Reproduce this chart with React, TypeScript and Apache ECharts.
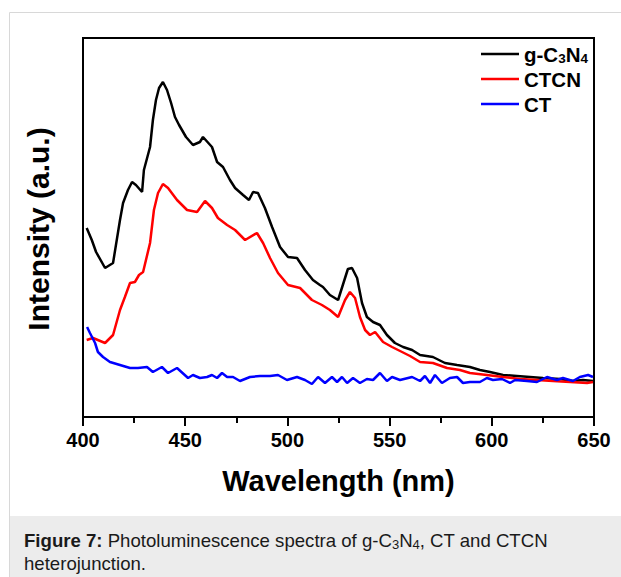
import React, { useEffect, useRef } from "react";
import * as echarts from "echarts";

const xTicks = [400, 450, 500, 550, 600, 650];

const gcnWavelength = [401.8,404.3,406.4,410.8,414.7,418.1,419.6,422.0,424.0,425.9,428.9,429.8,432.8,434.2,435.7,437.2,439.1,441.1,443.1,445.0,447.0,450.4,453.8,457.2,458.7,463.1,465.6,468.5,471.9,474.4,478.3,481.2,483.2,485.6,489.0,492.5,496.4,500.3,504.7,508.6,512.5,515.9,517.4,520.8,524.8,528.2,529.6,531.6,534.1,536.5,538.9,541.9,545.3,548.7,552.6,556.6,561.0,564.9,571.2,577.1,583.0,589.3,594.2,599.1,605.5,612.3,618.7,625.0,633.4,639.7,644.6,649.5];
const gcnIntensity = [189,177,165,149,154,197,214,227,235,232,225,247,270,297,317,329,335,327,314,300,292,280,272,275,280,270,255,250,237,229,222,217,225,224,209,190,170,160,159,147,137,132,130,122,117,139,148,149,139,114,100,95,92,82,74,70,67,62,60,54,52,50,47,45,42,41,40,39,38,36,37,36];

const ctcnWavelength = [401.8,404.9,410.8,414.7,418.1,420.5,423.0,425.4,427.4,429.4,432.8,434.7,436.7,439.1,441.6,446.0,450.9,455.8,459.7,463.1,466.0,470.5,474.4,479.3,485.1,488.1,491.5,495.4,500.3,506.2,512.0,516.9,520.8,524.8,528.2,530.6,533.1,535.5,538.0,540.4,542.9,546.8,551.2,556.1,560.0,564.9,571.2,578.1,584.4,589.3,597.6,605.5,613.8,622.1,629.9,638.3,646.6,649.5];
const ctcnIntensity = [77,79,74,82,107,120,134,135,142,145,174,207,224,233,229,217,207,205,216,209,199,192,187,177,184,174,159,144,132,129,117,112,107,100,117,125,119,100,87,82,85,75,70,65,61,55,54,49,47,44,42,40,38,37,36,35,34,35];

const ctWavelength = [402.0,403.4,405.9,407.3,409.8,413.2,418.1,423.0,426.9,431.3,434.2,438.6,441.6,446.0,451.4,453.8,457.2,460.7,463.1,465.6,468.0,470.5,473.4,476.8,481.7,486.6,491.5,495.4,499.8,504.7,508.6,512.0,515.0,518.4,521.8,524.3,526.7,529.2,532.1,535.5,538.9,541.9,545.3,548.7,551.2,555.1,561.0,564.9,567.3,569.8,572.2,575.6,579.5,583.0,585.9,589.3,594.2,597.6,600.6,605.0,608.9,611.4,617.2,622.1,627.0,631.9,634.8,639.7,643.1,647.1,649.5];
const ctIntensity = [90,84,74,65,60,55,52,49,49,50,45,50,44,49,39,42,39,40,42,39,44,40,40,36,40,41,41,42,37,40,37,33,40,34,40,35,40,34,39,34,38,37,44,36,40,37,40,36,41,34,42,34,39,40,34,35,35,39,37,38,34,37,36,35,40,37,39,36,40,42,40];

const seriesNames = ["g-C3N4", "CTCN", "CT"];
const seriesColors = ["#000000", "#ff0000", "#0000ff"];

const FONT = 'Arial, "Liberation Sans", sans-serif';

const pairs = (xs: number[], ys: number[]) => xs.map((x, i) => [x, ys[i]]);

export default function App() {
  const ref = useRef<HTMLDivElement>(null);
  useEffect(() => {
    if (!ref.current) return;
    const chart = echarts.init(ref.current, null, { renderer: "svg" });
    const data = [
      pairs(gcnWavelength, gcnIntensity),
      pairs(ctcnWavelength, ctcnIntensity),
      pairs(ctWavelength, ctIntensity),
    ];
    chart.setOption({
      animation: false,
      backgroundColor: "#ffffff",
      grid: {
        left: 83,
        right: 27,
        top: 38,
        bottom: 160,
        show: true,
        borderColor: "#000",
        borderWidth: 2,
        backgroundColor: "transparent",
      },
      legend: {
        orient: "vertical",
        left: 476,
        top: 38,
        icon: "rect",
        itemWidth: 38,
        itemHeight: 2.5,
        itemGap: 3,
        data: seriesNames,
        formatter: (n: string) => (n === "g-C3N4" ? "g-C{s|3}N{s|4}" : n),
        textStyle: {
          fontFamily: FONT,
          fontWeight: "bold",
          fontSize: 20.5,
          color: "#000",
          lineHeight: 22,
          rich: {
            s: {
              fontFamily: FONT,
              fontWeight: "bold",
              fontSize: 13.5,
              color: "#000",
              lineHeight: 14,
              padding: [8, 0, 0, 0],
              verticalAlign: "bottom",
            },
          },
        },
      },
      xAxis: {
        type: "value",
        min: xTicks[0],
        max: xTicks[xTicks.length - 1],
        interval: 50,
        axisLine: { show: true, onZero: false, lineStyle: { color: "#000", width: 2 } },
        axisTick: { show: true, length: 9, lineStyle: { color: "#000", width: 2 } },
        minorTick: { show: true, splitNumber: 2, length: 6, lineStyle: { color: "#000", width: 2 } },
        splitLine: { show: false },
        axisLabel: {
          margin: 13,
          fontFamily: FONT,
          fontWeight: "bold",
          fontSize: 20,
          color: "#000",
        },
      },
      yAxis: {
        type: "value",
        min: 0,
        max: 379,
        axisLine: { show: true, lineStyle: { color: "#000", width: 2 } },
        axisTick: { show: false },
        axisLabel: { show: false },
        splitLine: { show: false },
      },
      series: seriesNames.map((name, i) => ({
        name,
        type: "line",
        data: data[i],
        symbol: "none",
        smooth: false,
        color: seriesColors[i],
        lineStyle: { color: seriesColors[i], width: 2.5 },
        z: 3 + i,
      })),
      graphic: [
        {
          type: "rect",
          shape: { x: 9.5, y: 12.5, width: 700, height: 700 },
          style: { fill: "none", stroke: "#d8d8d8", lineWidth: 1 },
          z: -10,
        },
        {
          type: "rect",
          shape: { x: 10, y: 516, width: 620, height: 70 },
          style: { fill: "#ececec" },
          z: -5,
        },
        {
          type: "text",
          x: 38,
          y: 229,
          rotation: Math.PI / 2,
          style: {
            text: "Intensity (a.u.)",
            font: `bold 30px ${FONT}`,
            fill: "#000",
            align: "center",
            verticalAlign: "middle",
          },
        },
        {
          type: "text",
          x: 338.5,
          y: 481,
          style: {
            text: "Wavelength (nm)",
            font: `bold 29px ${FONT}`,
            fill: "#000",
            align: "center",
            verticalAlign: "middle",
          },
        },
        {
          type: "text",
          x: 24,
          y: 540,
          style: {
            text: "{b|Figure 7:} Photoluminescence spectra of g-C{s|3}N{s|4}, CT and CTCN",
            font: `18.6px ${FONT}`,
            fill: "#1a1a1a",
            align: "left",
            verticalAlign: "middle",
            lineHeight: 21,
            rich: {
              b: { font: `bold 18.6px ${FONT}`, fill: "#1a1a1a", lineHeight: 21 },
              s: {
                font: `13px ${FONT}`,
                fill: "#1a1a1a",
                lineHeight: 13,
                padding: [9, 0, 0, 0],
                verticalAlign: "bottom",
              },
            },
          },
        },
        {
          type: "text",
          x: 24,
          y: 563,
          style: {
            text: "heterojunction.",
            font: `18.6px ${FONT}`,
            fill: "#1a1a1a",
            align: "left",
            verticalAlign: "middle",
          },
        },
      ],
    });
    return () => chart.dispose();
  }, []);
  return (
    <div
      ref={ref}
      style={{ position: "fixed", left: 0, top: 0, width: 621, height: 577, background: "#fff" }}
    />
  );
}
